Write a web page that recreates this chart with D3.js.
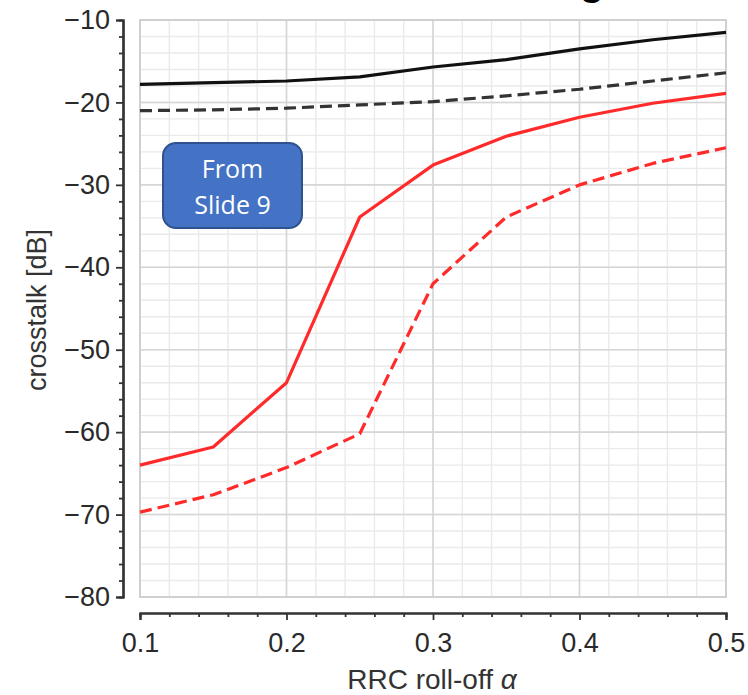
<!DOCTYPE html>
<html>
<head>
<meta charset="utf-8">
<script src="https://cdn.jsdelivr.net/npm/d3@7"></script>
<style>
  html, body { margin: 0; padding: 0; background: #fff; }
  svg { display: block; }
</style>
</head>
<body>
<svg id="chart" width="748" height="695"></svg>
<script>
// ---- data ----
const alphas      = [0.10, 0.15, 0.20, 0.25, 0.30, 0.35, 0.40, 0.45, 0.50];
const blackSolid  = [-17.8, -17.6, -17.4, -16.9, -15.7, -14.8, -13.5, -12.4, -11.5];
const blackDashed = [-21.0, -20.9, -20.7, -20.3, -19.9, -19.2, -18.4, -17.4, -16.4];
const redSolid    = [-64.0, -61.8, -54.0, -33.9, -27.6, -24.1, -21.8, -20.1, -18.9];
const redDashed   = [-69.7, -67.6, -64.3, -60.2, -42.0, -33.9, -30.0, -27.4, -25.5];
const xTickValues = [0.1, 0.2, 0.3, 0.4, 0.5];
const yTickValues = [-10, -20, -30, -40, -50, -60, -70, -80];
const xMinorTicks = d3.range(0, 21).map(i => +(0.1 + i * 0.02).toFixed(2));
const yMinorTicks = d3.range(0, 36).map(i => -80 + i * 2);
const xLabel = "RRC roll-off ";
const yLabel = "crosstalk [dB]";
const noteLines = ["From", "Slide 9"];

const svg = d3.select("#chart");
const plot = { left: 140, right: 726, top: 20, bottom: 597 };
const x = d3.scaleLinear().domain([0.1, 0.5]).range([plot.left, plot.right]);
const y = d3.scaleLinear().domain([-80, -10]).range([plot.bottom, plot.top]);

// partial title glyph cut off at the top of the picture (as in the reference)
svg.append("text").attr("x", 592).attr("y", -5)
  .attr("text-anchor", "middle")
  .style("font-family", "Liberation Sans, Arial, sans-serif")
  .style("font-weight", "bold").style("font-size", "40px").attr("fill", "#000")
  .text("g");

// grid
const grid = svg.append("g");
grid.selectAll("line.xminor").data(xMinorTicks).enter().append("line")
  .attr("x1", d => x(d)).attr("x2", d => x(d))
  .attr("y1", plot.top).attr("y2", plot.bottom)
  .attr("stroke", "#eaeaea").attr("stroke-width", 1.4);
grid.selectAll("line.yminor").data(yMinorTicks).enter().append("line")
  .attr("y1", d => y(d)).attr("y2", d => y(d))
  .attr("x1", plot.left).attr("x2", plot.right)
  .attr("stroke", "#eaeaea").attr("stroke-width", 1.4);
grid.selectAll("line.xmajor").data(xTickValues).enter().append("line")
  .attr("x1", d => x(d)).attr("x2", d => x(d))
  .attr("y1", plot.top).attr("y2", plot.bottom)
  .attr("stroke", "#d6d6d6").attr("stroke-width", 1.6);
grid.selectAll("line.ymajor").data(yTickValues).enter().append("line")
  .attr("y1", d => y(d)).attr("y2", d => y(d))
  .attr("x1", plot.left).attr("x2", plot.right)
  .attr("stroke", "#d6d6d6").attr("stroke-width", 1.6);
svg.append("rect")
  .attr("x", plot.left).attr("y", plot.top)
  .attr("width", plot.right - plot.left).attr("height", plot.bottom - plot.top)
  .attr("fill", "none").attr("stroke", "#d0d0d0").attr("stroke-width", 2);

// axes (detached from the plot area)
const tickFont = "Liberation Sans, Arial, sans-serif";
const yAxisG = svg.append("g").attr("transform", "translate(123,0)")
  .call(d3.axisLeft(y).tickValues(yTickValues).tickSize(7).tickPadding(6).tickFormat(d3.format("d")));
const yMinorG = svg.append("g").attr("transform", "translate(123,0)")
  .call(d3.axisLeft(y).tickValues(yMinorTicks.filter(v => v % 10 !== 0)).tickSize(4).tickFormat(""));
const xAxisG = svg.append("g").attr("transform", "translate(0,613)")
  .call(d3.axisBottom(x).tickValues(xTickValues).tickSize(7).tickPadding(12).tickFormat(d3.format(".1f")));
const xMinorG = svg.append("g").attr("transform", "translate(0,613)")
  .call(d3.axisBottom(x).tickValues(xMinorTicks.filter((v, i) => i % 5 !== 0)).tickSize(4).tickFormat(""));
[yAxisG, yMinorG, xAxisG, xMinorG].forEach(g => {
  g.select(".domain").attr("stroke", "#333").attr("stroke-width", 2.2);
  g.selectAll(".tick line").attr("stroke", "#333").attr("stroke-width", 1.8);
  g.selectAll("text").attr("fill", "#2a2a2a")
    .style("font-family", tickFont).style("font-size", "27px");
});
xAxisG.selectAll("text").attr("dy", "0.75em");

// axis labels
const xl = svg.append("text").attr("x", 432).attr("y", 689).attr("text-anchor", "middle")
  .style("font-family", tickFont).style("font-size", "28px").attr("fill", "#333");
xl.append("tspan").text(xLabel);
xl.append("tspan").style("font-style", "italic").text("α");
svg.append("text").attr("transform", "translate(46,310) rotate(-90)")
  .attr("text-anchor", "middle")
  .style("font-family", tickFont).style("font-size", "27px").attr("fill", "#333")
  .text(yLabel);

// lines
const seriesList = [
  { vals: blackSolid,  color: "#111111", dash: null },
  { vals: blackDashed, color: "#333333", dash: "12,6" },
  { vals: redSolid,    color: "#ff2a2a", dash: null },
  { vals: redDashed,   color: "#ff2a2a", dash: "12,6" }
];
const line = d3.line().x(d => x(d[0])).y(d => y(d[1]));
seriesList.forEach(s => {
  svg.append("path")
    .datum(alphas.map((a, i) => [a, s.vals[i]]))
    .attr("d", line)
    .attr("fill", "none")
    .attr("stroke", s.color)
    .attr("stroke-width", 3.2)
    .attr("stroke-linejoin", "round")
    .attr("stroke-dasharray", s.dash);
});

// note box
const note = svg.append("g");
note.append("rect").attr("x", 163).attr("y", 143).attr("width", 139).attr("height", 85)
  .attr("rx", 13).attr("fill", "#4472c4").attr("stroke", "#2f528f").attr("stroke-width", 2);
note.selectAll("text").data(noteLines).enter().append("text")
  .attr("x", 232.5).attr("y", (d, i) => 178 + i * 36)
  .attr("text-anchor", "middle")
  .style("font-family", "Open Sans, Noto Sans, sans-serif").style("font-size", "25px")
  .attr("fill", "#fff")
  .text(d => d);
</script>
</body>
</html>
